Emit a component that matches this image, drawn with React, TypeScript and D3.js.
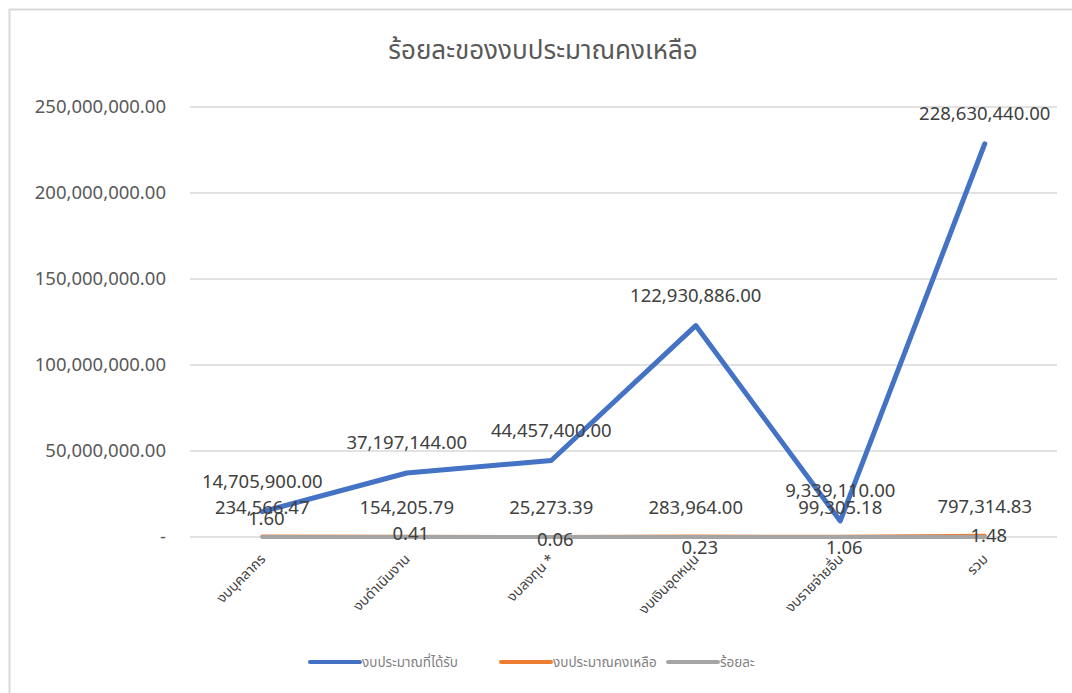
import React from 'react';
import * as d3 from 'd3';

// ข้อมูลจากตาราง
const categories = ['งบบุคลากร', 'งบดำเนินงาน', 'งบลงทุน *', 'งบเงินอุดหนุน', 'งบรายจ่ายอื่น', 'รวม'];
const received = [14705900, 37197144, 44457400, 122930886, 9339110, 228630440];
const remaining = [234566.47, 154205.79, 25273.39, 283964.0, 99305.18, 797314.83];
const percent = [1.6, 0.41, 0.06, 0.23, 1.06, 1.48];
const yTicks = [0, 50000000, 100000000, 150000000, 200000000, 250000000];
const seriesNames = ['งบประมาณที่ได้รับ', 'งบประมาณคงเหลือ', 'ร้อยละ'];

const W = 1072;
const H = 693;
const margin = { top: 107, right: 15, bottom: 156, left: 190 };
const colors = ['#4472C4', '#ED7D31', '#A5A5A5'];
const font = "'Noto Sans Thai', 'Noto Sans', 'DejaVu Sans', sans-serif";
// manual nudges Excel applied to the percent labels
const pctLabelDy = [-18, -3, 3, 11, 11, -1];

const fmt = d3.format(',.2f');

const App: React.FC = () => {
  const x = d3.scalePoint<string>()
    .domain(categories)
    .range([margin.left, W - margin.right])
    .padding(0.5);

  const y = d3.scaleLinear()
    .domain([0, 250000000])
    .range([H - margin.bottom, margin.top]);

  const line = d3.line<number>()
    .x((_, i) => x(categories[i]) as number)
    .y(d => y(d));

  // percent is plotted on the same axis as the money, so it sits on zero
  const series = [received, remaining, percent];

  return (
    <div style={{ position: 'absolute', left: 0, top: 0 }}>
      <svg width={W} height={H} style={{ display: 'block', background: '#fff' }}>
        <rect x={9.5} y={9.5} width={W + 20} height={H + 20} fill="none" stroke="#d9d9d9" strokeWidth={2} />

        <text x={543} y={59} textAnchor="middle" fontFamily={font} fontSize={26} fill="#595959">
          ร้อยละของงบประมาณคงเหลือ
        </text>

        {yTicks.map(t => (
          <g key={t}>
            <line x1={margin.left} x2={W - margin.right} y1={y(t)} y2={y(t)} stroke="#d9d9d9" strokeWidth={1.5} />
            <text x={166} y={y(t)} dy="0.35em" textAnchor="end" fontFamily={font} fontSize={18.5} fill="#595959">
              {t === 0 ? '-' : fmt(t)}
            </text>
          </g>
        ))}

        {categories.map(c => (
          <text
            key={c}
            transform={`translate(${(x(c) as number) + 4},${H - margin.bottom + 23}) rotate(-45)`}
            textAnchor="end"
            fontFamily={font}
            fontSize={14}
            fill="#404040"
          >
            {c}
          </text>
        ))}

        {series.map((s, k) => (
          <path key={k} d={line(s) || ''} fill="none" stroke={colors[k]} strokeWidth={k === 0 ? 5 : 4} strokeLinejoin="round" strokeLinecap="round" />
        ))}

        {received.map((v, i) => (
          <text key={'r' + i} x={x(categories[i])} y={y(v) - 30} dy="0.35em" textAnchor="middle" fontFamily={font} fontSize={18.5} fill="#404040">
            {fmt(v)}
          </text>
        ))}
        {remaining.map((v, i) => (
          <text key={'m' + i} x={x(categories[i])} y={y(v) - 29} dy="0.35em" textAnchor="middle" fontFamily={font} fontSize={18.5} fill="#404040">
            {fmt(v)}
          </text>
        ))}
        {percent.map((v, i) => (
          <text key={'p' + i} x={(x(categories[i]) as number) + 4} y={y(v) + pctLabelDy[i]} dy="0.35em" textAnchor="middle" fontFamily={font} fontSize={18.5} fill="#404040">
            {fmt(v)}
          </text>
        ))}

        {seriesNames.map((n, k) => {
          const lx = [310, 501, 668][k];
          return (
            <g key={n}>
              <line x1={lx} x2={lx + 50} y1={662} y2={662} stroke={colors[k]} strokeWidth={4} strokeLinecap="round" />
              <text x={lx + 52} y={662} dy="0.35em" fontFamily={font} fontSize={13.5} fill="#7f7f7f">{n}</text>
            </g>
          );
        })}
      </svg>
    </div>
  );
};

export default App;
